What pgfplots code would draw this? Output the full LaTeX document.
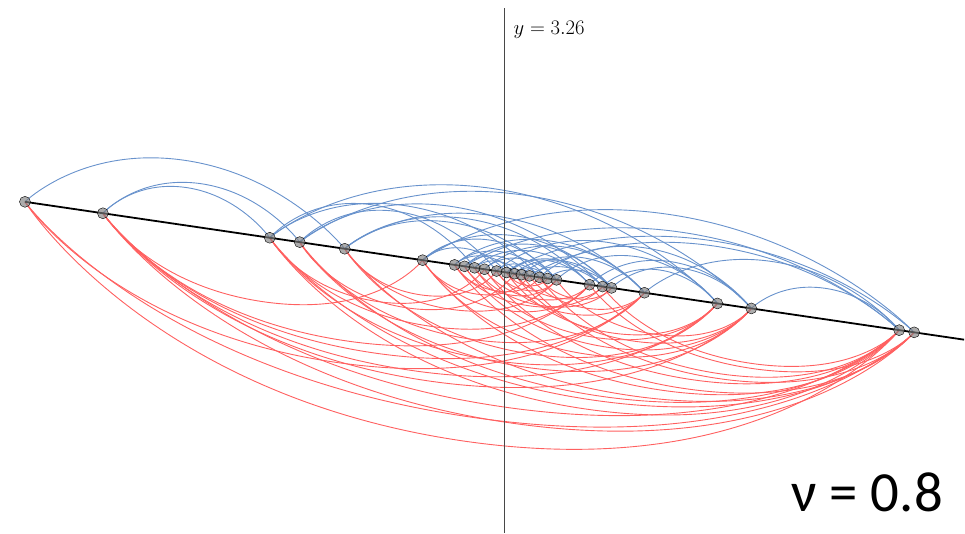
\documentclass[border=0pt]{standalone}
\usepackage{fontspec}
\usepackage{pgfplots}
\pgfplotsset{compat=1.18}
\newfontfamily\carlito{Carlito}
\definecolor{bluc}{RGB}{104,146,204}
\definecolor{redc}{RGB}{255,96,96}
\begin{document}
\begin{tikzpicture}
\begin{axis}[width=965bp, height=533bp, scale only axis,
  xmin=0, xmax=965, ymin=0, ymax=533, hide axis, clip=false,
  blu/.style={color=bluc, line width=0.9bp, smooth, tension=1.15, forget plot},
  rd/.style={color=redc, line width=0.9bp, smooth, tension=1.3, forget plot}]
% invisible frame fixing the picture's extent
\addplot[draw=none, forget plot] coordinates {(0,0) (965,533)};
% blue arcs (above the line)
\addplot[blu] coordinates {(25,331.00) (185,372.51) (345,284.02)};
\addplot[blu] coordinates {(103,319.55) (186.5,345.29) (270,295.03)};
\addplot[blu] coordinates {(103,319.55) (201.5,349.09) (300,290.63)};
\addplot[blu] coordinates {(270,295.03) (494,344.15) (718,229.27)};
\addplot[blu] coordinates {(300,290.63) (526,337.46) (752,224.28)};
\addplot[blu] coordinates {(423,272.57) (669,318.46) (915,200.35)};
\addplot[blu] coordinates {(465,266.41) (682.5,300.48) (900,202.55)};
\addplot[blu] coordinates {(507,260.24) (711,292.30) (915,200.35)};
\addplot[blu] coordinates {(530,256.87) (715,286.71) (900,202.55)};
\addplot[blu] coordinates {(752,224.28) (826,244.42) (900,202.55)};
\addplot[blu] coordinates {(270,295.03) (405,327.22) (540,255.40)};
\addplot[blu] coordinates {(300,290.63) (451.5,326.39) (603,246.15)};
\addplot[blu] coordinates {(345,284.02) (467.5,314.04) (590,248.06)};
\addplot[blu] coordinates {(345,284.02) (451,310.46) (557,252.90)};
\addplot[blu] coordinates {(345,284.02) (495,317.00) (645,239.98)};
\addplot[blu] coordinates {(423,272.57) (517.5,296.70) (612,244.83)};
\addplot[blu] coordinates {(423,272.57) (490,292.74) (557,252.90)};
\addplot[blu] coordinates {(455,267.87) (550,291.93) (645,239.98)};
\addplot[blu] coordinates {(465,266.41) (538.5,287.62) (612,244.83)};
\addplot[blu] coordinates {(475,264.94) (532.5,281.50) (590,248.06)};
\addplot[blu] coordinates {(485,263.47) (565,285.73) (645,239.98)};
\addplot[blu] coordinates {(497,261.71) (607.5,290.49) (718,229.27)};
\addplot[blu] coordinates {(507,260.24) (555,273.20) (603,246.15)};
\addplot[blu] coordinates {(455,267.87) (501.5,281.05) (548,254.22)};
\addplot[blu] coordinates {(465,266.41) (497.5,276.64) (530,256.87)};
\addplot[blu] coordinates {(475,264.94) (498.5,271.49) (522,258.04)};
\addplot[blu] coordinates {(485,263.47) (521,274.19) (557,252.90)};
\addplot[blu] coordinates {(497,261.71) (518.5,268.56) (540,255.40)};
\addplot[blu] coordinates {(507,260.24) (548.5,272.15) (590,248.06)};
\addplot[blu] coordinates {(515,259.07) (563.5,271.95) (612,244.83)};
\addplot[blu] coordinates {(522,258.04) (583.5,275.01) (645,239.98)};
\addplot[blu] coordinates {(540,255.40) (646,284.84) (752,224.28)};
\addplot[blu] coordinates {(557,252.90) (637.5,276.09) (718,229.27)};
\addplot[blu] coordinates {(590,248.06) (671,271.17) (752,224.28)};
\addplot[blu] coordinates {(603,246.15) (660.5,262.71) (718,229.27)};
\addplot[blu] coordinates {(612,244.83) (682,264.56) (752,224.28)};
\addplot[blu] coordinates {(645,239.98) (772.5,271.27) (900,202.55)};
\addplot[blu] coordinates {(423,272.57) (465,284.41) (507,260.24)};
\addplot[blu] coordinates {(300,290.63) (398.5,321.17) (497,261.71)};
\addplot[blu] coordinates {(270,295.03) (372.5,327.99) (475,264.94)};
\addplot[blu] coordinates {(515,259.07) (531.5,264.65) (548,254.22)};
\addplot[blu] coordinates {(530,256.87) (566.5,265.51) (603,246.15)};
\addplot[blu] coordinates {(548,254.22) (580,262.53) (612,244.83)};
\addplot[blu] coordinates {(455,267.87) (485,276.47) (515,259.07)};
% red arcs (below the line)
\addplot[rd] coordinates {(25,331.00) (462.5,91.78) (900,202.55)};
\addplot[rd] coordinates {(25,331.00) (470,115.68) (915,200.35)};
\addplot[rd] coordinates {(25,331.00) (335,170.49) (645,239.98)};
\addplot[rd] coordinates {(103,319.55) (509,109.95) (915,200.35)};
\addplot[rd] coordinates {(103,319.55) (501.5,126.05) (900,202.55)};
\addplot[rd] coordinates {(103,319.55) (427.5,151.92) (752,224.28)};
\addplot[rd] coordinates {(103,319.55) (410.5,162.41) (718,229.27)};
\addplot[rd] coordinates {(103,319.55) (374,179.77) (645,239.98)};
\addplot[rd] coordinates {(103,319.55) (263,231.06) (423,272.57)};
\addplot[rd] coordinates {(103,319.55) (346.5,191.81) (590,248.06)};
\addplot[rd] coordinates {(270,295.03) (585,123.79) (900,202.55)};
\addplot[rd] coordinates {(270,295.03) (592.5,132.69) (915,200.35)};
\addplot[rd] coordinates {(270,295.03) (494,172.15) (718,229.27)};
\addplot[rd] coordinates {(270,295.03) (430,206.55) (590,248.06)};
\addplot[rd] coordinates {(300,290.63) (600,136.59) (900,202.55)};
\addplot[rd] coordinates {(300,290.63) (526,165.46) (752,224.28)};
\addplot[rd] coordinates {(300,290.63) (472.5,193.31) (645,239.98)};
\addplot[rd] coordinates {(345,284.02) (630,137.19) (915,200.35)};
\addplot[rd] coordinates {(345,284.02) (531.5,178.65) (718,229.27)};
\addplot[rd] coordinates {(345,284.02) (451,223.46) (557,252.90)};
\addplot[rd] coordinates {(423,272.57) (661.5,142.56) (900,202.55)};
\addplot[rd] coordinates {(423,272.57) (587.5,178.43) (752,224.28)};
\addplot[rd] coordinates {(423,272.57) (506.5,222.32) (590,248.06)};
\addplot[rd] coordinates {(455,267.87) (685,144.11) (915,200.35)};
\addplot[rd] coordinates {(465,266.41) (608.5,185.35) (752,224.28)};
\addplot[rd] coordinates {(475,264.94) (596.5,195.11) (718,229.27)};
\addplot[rd] coordinates {(485,263.47) (692.5,153.01) (900,202.55)};
\addplot[rd] coordinates {(497,261.71) (571,218.85) (645,239.98)};
\addplot[rd] coordinates {(507,260.24) (612.5,199.76) (718,229.27)};
\addplot[rd] coordinates {(515,259.07) (633.5,191.68) (752,224.28)};
\addplot[rd] coordinates {(522,258.04) (718.5,154.20) (915,200.35)};
\addplot[rd] coordinates {(540,255.40) (720,158.98) (900,202.55)};
\addplot[rd] coordinates {(557,252.90) (654.5,198.59) (752,224.28)};
\addplot[rd] coordinates {(590,248.06) (752.5,164.21) (915,200.35)};
\addplot[rd] coordinates {(603,246.15) (751.5,169.35) (900,202.55)};
\addplot[rd] coordinates {(455,267.87) (529,227.01) (603,246.15)};
\addplot[rd] coordinates {(465,266.41) (511,237.66) (557,252.90)};
\addplot[rd] coordinates {(475,264.94) (543.5,226.89) (612,244.83)};
\addplot[rd] coordinates {(485,263.47) (537.5,233.77) (590,248.06)};
\addplot[rd] coordinates {(497,261.71) (527,242.31) (557,252.90)};
\addplot[rd] coordinates {(507,260.24) (527.5,247.23) (548,254.22)};
\addplot[rd] coordinates {(515,259.07) (559,234.61) (603,246.15)};
\addplot[rd] coordinates {(530,256.87) (587.5,224.43) (645,239.98)};
\addplot[rd] coordinates {(540,255.40) (576,234.12) (612,244.83)};
\addplot[rd] coordinates {(270,295.03) (377.5,231.25) (485,263.47)};
\addplot[rd] coordinates {(300,290.63) (407.5,224.85) (515,259.07)};
\addplot[rd] coordinates {(345,284.02) (421,237.87) (497,261.71)};
\addplot[rd] coordinates {(423,272.57) (476.5,238.72) (530,256.87)};
\addplot[rd] coordinates {(455,267.87) (497.5,241.64) (540,255.40)};
% vertical line
\addplot[color=black!72, line width=1.9bp, forget plot] coordinates {(505,0) (505,525)};
% the sloped line
\addplot[black, line width=1.8bp, forget plot] coordinates {(25,331.00) (965,193.01)};
% the points
\addplot[only marks, mark=*, mark size=5.5bp, mark options={draw=none, fill=black!50, fill opacity=0.65}, forget plot]
 coordinates {(25,331.00) (103,319.55) (270,295.03) (300,290.63) (345,284.02) (423,272.57)
 (455,267.87) (465,266.41) (475,264.94) (485,263.47) (497,261.71) (507,260.24) (515,259.07)
 (522,258.04) (530,256.87) (540,255.40) (548,254.22) (557,252.90) (590,248.06) (603,246.15)
 (612,244.83) (645,239.98) (718,229.27) (752,224.28) (900,202.55) (915,200.35)};
\node[anchor=west, inner sep=0pt, font=\fontsize{21}{24}\selectfont] at (axis cs:514,503) {$y = 3.26$};
\node[anchor=center, inner sep=0pt, font=\carlito\fontsize{57}{60}\selectfont] at (axis cs:868,40) {ν = 0.8};
\end{axis}
\end{tikzpicture}
\end{document}
